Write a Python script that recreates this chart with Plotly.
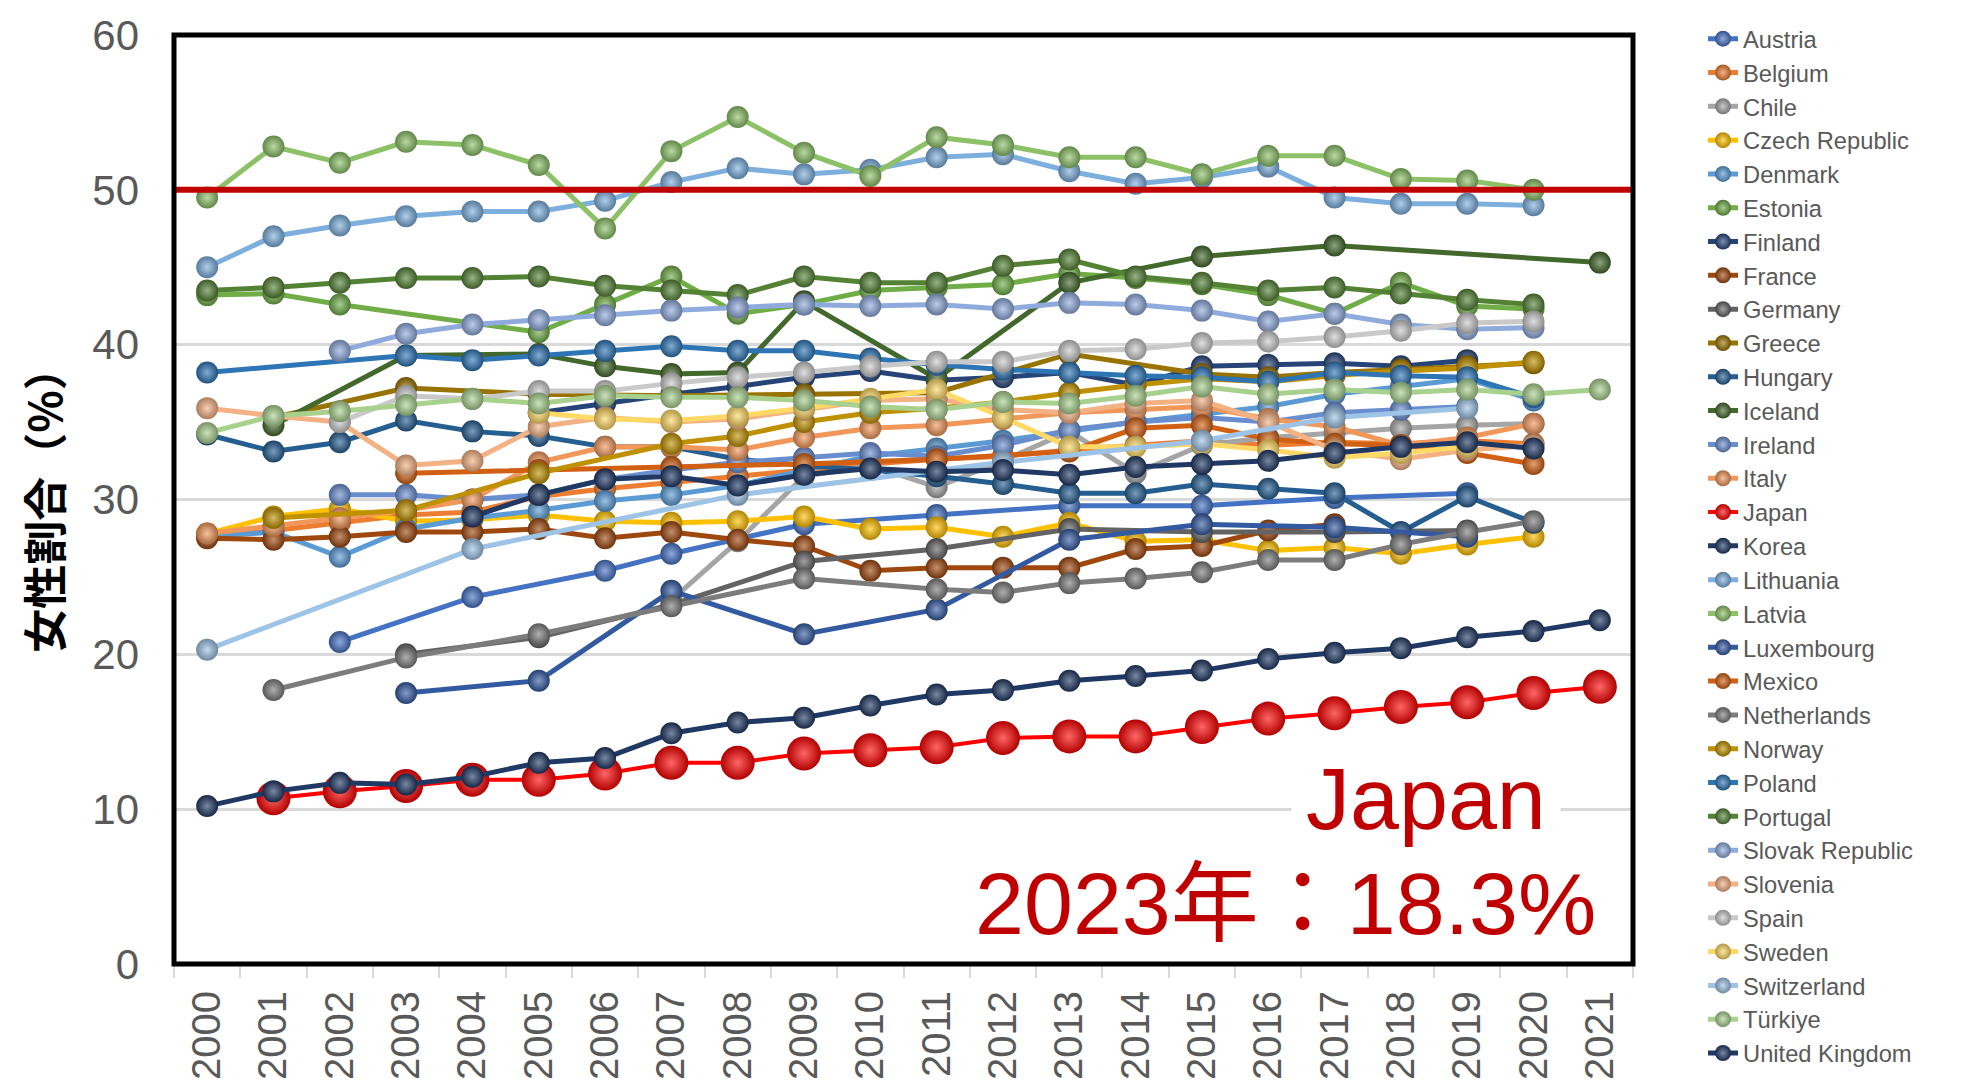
import plotly.graph_objects as go

# ---------------- data ----------------
years = [str(y) for y in range(2000, 2022)]

countries = ["Austria", "Belgium", "Chile", "Czech Republic", "Denmark", "Estonia",
             "Finland", "France", "Germany", "Greece", "Hungary", "Iceland", "Ireland",
             "Italy", "Japan", "Korea", "Lithuania", "Latvia", "Luxembourg", "Mexico",
             "Netherlands", "Norway", "Poland", "Portugal", "Slovak Republic", "Slovenia",
             "Spain", "Sweden", "Switzerland", "Türkiye", "United Kingdom"]

N = None
austria = [N, N, 20.8, N, 23.7, N, 25.4, 26.5, N, 28.4, N, 29.0, N, 29.6, N, 29.6, N, 30.1, N, 30.4, N, N]
belgium = [27.6, 28.0, 28.5, 29.0, 29.2, 30.2, 30.7, 31.1, 31.5, 31.9, 32.3, 32.6, 32.8, 33.2, 33.5, 33.8, 33.5, 33.7, 33.6, 33.8, 33.6, N]
chile = [N, N, N, N, N, N, N, 23.5, 27.3, 31.5, 32.2, 30.8, 32.5, 34.4, 31.7, 33.5, 34.0, 34.3, 34.6, 34.8, 34.9, N]
czech = [27.8, 28.9, 29.4, 28.6, 28.7, 29.0, 28.6, 28.5, 28.6, 28.9, 28.1, 28.2, 27.6, 28.5, 27.3, 27.4, 26.7, 26.9, 26.5, 27.1, 27.6, N]
denmark = [27.6, 27.9, 26.3, 28.1, 28.8, 29.3, 29.9, 30.3, 30.9, 31.9, 32.8, 33.3, 33.8, 34.4, 35.0, 35.5, 36.0, 36.8, 37.3, 37.8, 36.4, N]
estonia = [43.2, 43.3, 42.6, N, N, 40.8, 42.6, 44.4, 42.0, 42.6, 43.5, 43.7, 43.9, 44.6, 44.3, 43.9, 43.2, 42.0, 44.0, 42.5, 42.3, N]
finland = [N, N, N, N, N, 35.6, 36.2, 36.8, 37.3, 37.9, 38.3, 37.7, 37.9, 38.2, 37.4, 38.6, 38.7, 38.8, 38.6, 39.0, N, N]
france = [27.5, 27.4, 27.6, 27.9, 27.9, 28.1, 27.5, 27.9, 27.4, 27.0, 25.4, 25.6, 25.6, 25.6, 26.8, 27.0, 28.0, 28.4, N, N, N, N]
germany = [N, N, N, 20.0, N, 21.1, N, 23.2, N, 26.0, N, 26.8, N, 28.1, N, 27.9, N, 27.9, N, 28.0, N, N]
greece = [N, 35.3, N, 37.2, N, 36.8, N, 36.7, N, 36.8, N, 36.9, N, 39.4, N, 38.1, 37.9, 38.2, 38.4, 38.6, 38.8, N]
hungary = [34.2, 33.1, 33.7, 35.1, 34.4, 34.1, 33.4, 33.4, 32.6, 32.2, 31.9, 31.5, 31.0, 30.4, 30.4, 31.0, 30.7, 30.4, 27.9, 30.2, 28.5, N]
iceland = [N, 34.8, N, 39.3, N, 39.4, 38.6, 38.1, 38.2, 42.8, N, 37.8, N, 44.0, N, 45.7, N, 46.4, N, N, N, 45.3]
ireland = [N, N, 30.3, 30.3, 30.0, 30.3, 31.3, 31.9, 32.4, 32.7, 33.0, 32.8, 33.5, 34.5, 35.0, 35.3, 35.0, 35.6, 35.8, 36.0, N, N]
italy = [27.8, 28.3, 28.8, 29.3, 30.0, 32.4, 33.4, 33.4, 33.2, 34.0, 34.6, 34.8, 35.2, 35.6, 35.8, 36.0, 35.2, 34.7, 33.5, 34.0, 34.9, N]
japan = [N, 10.7, 11.15, 11.5, 11.9, 11.9, 12.3, 13.0, 13.0, 13.6, 13.8, 14.0, 14.6, 14.7, 14.7, 15.3, 15.85, 16.2, 16.6, 16.9, 17.5, 17.9]
korea = [10.2, 11.15, 11.7, 11.6, 12.1, 13.0, 13.3, 14.9, 15.6, 15.9, 16.7, 17.4, 17.7, 18.3, 18.6, 18.95, 19.7, 20.1, 20.4, 21.1, 21.5, 22.2]
lithuania = [45.0, 47.0, 47.7, 48.3, 48.6, 48.6, 49.3, 50.5, 51.4, 51.0, 51.3, 52.1, 52.3, 51.2, 50.4, 50.8, 51.5, 49.5, 49.1, 49.1, 49.0, N]
latvia = [49.5, 52.8, 51.75, 53.1, 52.9, 51.6, 47.5, 52.5, 54.7, 52.4, 50.9, 53.4, 52.9, 52.1, 52.1, 51.0, 52.2, 52.2, 50.7, 50.6, 50.0, N]
luxembourg = [N, N, N, 17.5, N, 18.3, N, 24.1, N, 21.3, N, 22.9, N, 27.4, N, 28.4, N, 28.2, N, 27.6, N, N]
mexico = [N, N, N, 31.7, N, 31.9, N, 32.1, N, 32.3, N, 32.6, N, 33.1, 34.6, 34.8, 33.9, 33.6, 33.5, 33.0, 32.3, N]
netherlands = [N, 17.7, N, 19.8, N, 21.3, N, 23.1, N, 24.9, N, 24.2, 24.0, 24.6, 24.9, 25.3, 26.1, 26.1, 27.1, 27.9, 28.6, N]
norway = [N, 28.8, N, 29.3, N, 31.7, N, 33.6, 34.1, 35.0, 35.6, 35.9, 36.3, 36.9, 37.4, 37.8, 37.6, 38.0, 38.3, 38.5, 38.9, N]
poland = [38.2, N, N, 39.3, 39.0, 39.3, 39.6, 39.9, 39.6, 39.6, 39.1, 38.7, 38.4, 38.2, 38.0, 37.9, 37.6, 38.2, 38.0, 37.9, 36.6, N]
portugal = [43.5, 43.7, 44.0, 44.3, 44.3, 44.4, 43.8, 43.5, 43.2, 44.4, 44.0, 44.0, 45.1, 45.5, 44.4, 44.0, 43.5, 43.7, 43.3, 42.9, 42.6, N]
slovak = [N, N, 39.6, 40.7, 41.3, 41.6, 41.9, 42.2, 42.4, 42.6, 42.5, 42.6, 42.3, 42.7, 42.6, 42.2, 41.5, 42.0, 41.3, 41.0, 41.1, N]
slovenia = [35.9, 35.4, 35.0, 32.2, 32.5, 34.7, 35.3, 35.0, 35.2, 35.8, 36.4, 36.5, 35.8, 35.6, 36.2, 36.4, 35.0, 33.2, 32.6, 33.2, 33.5, N]
spain = [N, N, 35.0, 36.7, 36.5, 37.0, 37.0, 37.5, 37.9, 38.2, 38.6, 38.9, 38.9, 39.6, 39.7, 40.1, 40.2, 40.5, 40.9, 41.4, 41.5, N]
sweden = [N, N, N, N, N, 35.6, 35.2, 35.1, 35.4, 35.9, 36.5, 37.1, 35.3, 33.4, 33.4, 33.6, 33.2, 32.7, 33.0, 33.4, N, N]
switzerland = [20.3, N, N, N, 26.8, N, N, N, 30.3, N, N, N, 32.4, N, N, 33.8, N, 35.3, N, 35.9, N, N]
turkiye = [34.3, 35.4, 35.7, 36.1, 36.5, 36.2, 36.7, 36.6, 36.6, 36.4, 36.0, 35.8, 36.3, 36.2, 36.7, 37.3, 36.8, 37.1, 36.9, 37.1, 36.8, 37.1]
uk = [N, N, N, N, 28.9, 30.3, 31.3, 31.5, 30.9, 31.6, 32.0, 31.8, 31.9, 31.6, 32.1, 32.3, 32.5, 33.0, 33.4, 33.7, 33.3, N]

series = [austria, belgium, chile, czech, denmark, estonia, finland, france, germany,
          greece, hungary, iceland, ireland, italy, japan, korea, lithuania, latvia,
          luxembourg, mexico, netherlands, norway, poland, portugal, slovak, slovenia,
          spain, sweden, switzerland, turkiye, uk]

parity_level = 50
y_title = "女性割合（%）"
note_country = "Japan"
note_value = "2023年：18.3%"

# ---------------- style ----------------
colors = ["#4472C4", "#ED7D31", "#A5A5A5", "#FFC000", "#5B9BD5", "#70AD47",
          "#264478", "#9E480E", "#636363", "#997300", "#255E91", "#43682B",
          "#698ED0", "#F1975A", "#FF0000", "#1F3864", "#7CAFDD", "#8CC168",
          "#335AA1", "#D26012", "#7C7C7C", "#BF9000", "#2E75B6", "#548235",
          "#8FAADC", "#F4B183", "#C9C9C9", "#FFD966", "#9DC3E6", "#A9D18E",
          "#203864"]


def mix(c, other, t):
    c = c.lstrip("#")
    o = other.lstrip("#")
    a = [int(c[i:i + 2], 16) for i in (0, 2, 4)]
    b = [int(o[i:i + 2], 16) for i in (0, 2, 4)]
    r = [round(a[k] + (b[k] - a[k]) * t) for k in range(3)]
    return "#%02x%02x%02x" % tuple(r)


FONT = "Liberation Sans, Arial, Noto Sans CJK JP, sans-serif"
GREY_TXT = "#595959"

fig = go.Figure()
for name, vals, col in zip(countries, series, colors):
    is_jp = name == "Japan"
    fig.add_trace(go.Scatter(
        x=years, y=vals, name=name, mode="lines+markers", connectgaps=True,
        line=dict(color=col, width=4 if is_jp else 5),
        marker=dict(size=34 if is_jp else 22, color=mix(col, "#000000", 0.3),
                    gradient=dict(type="radial", color=mix(col, "#ffffff", 0.4)),
                    line=dict(width=0)),
    ))

fig.update_layout(
    width=1977, height=1092,
    margin=dict(l=174, r=344, t=33, b=123, pad=0),
    paper_bgcolor="white", plot_bgcolor="white",
    font=dict(family=FONT, color=GREY_TXT),
    showlegend=True,
    legend=dict(x=1.048, xanchor="left", y=1.0196, yanchor="top",
                font=dict(size=23.7, color=GREY_TXT, family=FONT),
                bgcolor="rgba(0,0,0,0)", borderwidth=0, itemwidth=30,
                tracegroupgap=0, maxheight=1085),
    xaxis=dict(type="category", categoryorder="array", categoryarray=years,
               range=[-0.5, len(years) - 0.5],
               tickangle=-90, ticks="outside", tickson="boundaries", ticklen=13,
               tickwidth=2, tickcolor="#D9D9D9", showgrid=False, showline=False,
               zeroline=False, tickfont=dict(size=40, color=GREY_TXT, family=FONT),
               ticklabelstandoff=18),
    yaxis=dict(range=[0, 60], dtick=10, tick0=0, showgrid=True, gridcolor="#D9D9D9",
               gridwidth=3, zeroline=False, showline=False, ticks="",
               tickfont=dict(size=42, color=GREY_TXT, family=FONT),
               ticklabelstandoff=34,
               title=dict(text="<b>" + y_title + "</b>", standoff=15,
                          font=dict(size=44, color="black",
                                    family="Noto Sans CJK JP, sans-serif"))),
    shapes=[
        dict(type="line", xref="paper", x0=0, x1=1, yref="y", y0=parity_level,
             y1=parity_level, line=dict(color="#C00000", width=6), layer="above"),
        dict(type="rect", xref="paper", yref="paper", x0=0, x1=1, y0=0, y1=1,
             line=dict(color="black", width=5), layer="above"),
    ],
    annotations=[
        dict(text=note_country, xref="paper", x=0.858, yref="y", y=10.7,
             xanchor="center", yanchor="middle", showarrow=False, bgcolor="white",
             borderpad=14, font=dict(size=88, color="#C00000", family=FONT)),
        dict(text=note_value, xref="paper", x=0.762, yref="y", y=3.9,
             xanchor="center", yanchor="middle", showarrow=False,
             font=dict(size=88, color="#C00000", family=FONT)),
    ],
)

fig.write_html("out.html")
